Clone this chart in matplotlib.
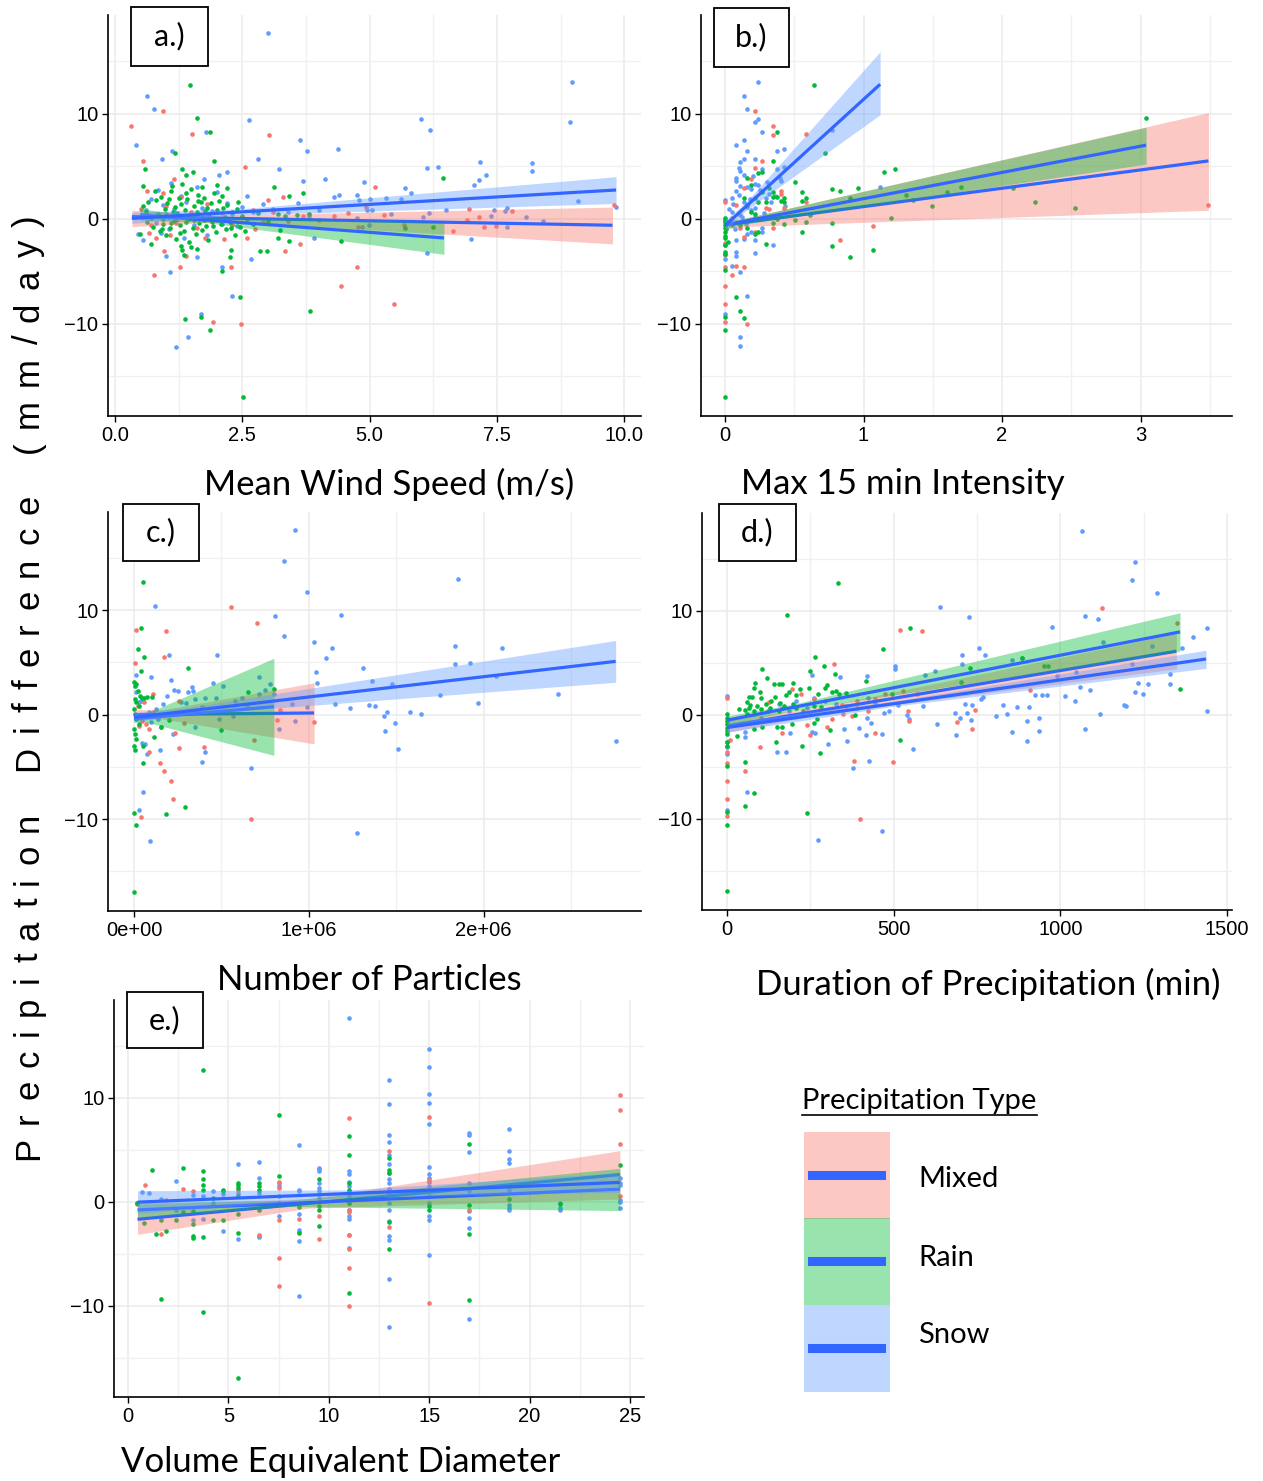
import matplotlib
matplotlib.use("Agg")
import matplotlib.pyplot as plt
from matplotlib import font_manager
from matplotlib.patches import Rectangle
from matplotlib.lines import Line2D

W, H = 1263, 1481

# ---------------------------------------------------------------------------
# data: (x, precipitation difference) pairs
# ---------------------------------------------------------------------------

# a.) mean wind speed (m/s)
a_snow = [
    (3.01, 17.7), (1.48, 14.7), (0.63, 11.7), (0.77, 10.4), (8.98, 13.0), (8.93, 9.2),
    (6.0, 9.5), (6.18, 8.4), (2.62, 9.4), (1.79, 8.3), (0.41, 7.0), (3.64, 7.5),
    (3.76, 6.4), (4.38, 6.6), (2.80, 5.7), (1.11, 6.4), (0.92, 5.7), (7.16, 5.4),
    (8.19, 5.3), (8.19, 4.5), (6.12, 4.8), (6.34, 4.9), (7.29, 4.2), (7.14, 3.7),
    (7.04, 3.2), (3.21, 4.7), (3.70, 3.6), (4.12, 3.8), (4.88, 3.5), (5.69, 2.9),
    (5.82, 2.4), (9.10, 1.7), (9.84, 1.1), (7.45, 0.8), (7.69, 1.0), (8.08, 0.2),
    (8.41, -0.2), (7.0, -1.9), (6.12, -3.3), (3.9, -1.8), (2.67, -3.8), (2.1, -4.6),
    (1.07, -5.1), (1.60, -3.7), (1.0, -3.6), (1.69, -9.1), (1.43, -11.3), (1.19, -12.2),
    (2.29, -7.4), (4.29, 2.1), (4.39, 2.3), (4.76, 2.3), (4.8, 1.8), (5.01, 1.9),
    (5.33, 2.0), (5.61, 1.9), (6.5, 0.8), (4.95, 0.8), (5.05, 0.8), (5.41, 0.4),
    (6.17, 0.5), (4.76, 0.1), (4.98, -0.6), (4.85, -0.8), (6.05, 0.2), (7.38, 0.25),
    (7.65, 0.7), (7.69, -0.8),
    (0.4, 0.2), (0.45, -1.5), (0.55, -2.0), (0.6, 0.8), (0.7, 1.9), (0.8, -0.4),
    (0.85, 2.7), (0.9, -1.4), (0.95, 1.3), (1.0, 0.4), (1.05, -1.0), (1.1, 3.4),
    (1.15, 0.9), (1.2, -0.2), (1.3, 2.2), (1.35, -1.8), (1.4, 1.6), (1.5, 0.1),
    (1.55, -0.6), (1.6, 3.0), (1.7, 1.0), (1.75, 3.8), (1.8, -1.6), (1.9, 0.7),
    (2.0, 2.5), (2.1, -0.5), (2.2, 1.5), (2.3, 0.4), (2.4, -0.7), (2.5, 1.1),
    (2.6, 2.2), (2.7, 0.6), (2.9, 1.4), (3.1, 0.9), (3.4, 0.6), (3.6, 1.5),
    (3.8, 0.3), (4.0, 0.8), (2.05, 4.2), (2.2, 4.4),
]
a_mixed = [
    (0.94, 10.3), (0.32, 8.8), (1.51, 8.1), (3.02, 8.0), (0.54, 5.5), (2.56, 4.9),
    (5.11, 3.0), (3.0, 1.8), (3.29, 2.1), (9.79, 1.3), (7.8, 0.7), (6.96, 0.9),
    (7.15, 0.2), (7.24, -0.8), (7.48, -0.7), (6.63, -1.2), (6.91, -0.1), (4.57, 0.5),
    (4.93, 1.1), (5.28, 0.35), (5.68, -0.6), (4.77, -0.8), (2.75, -1.0), (3.64, -2.4),
    (3.34, -3.1), (4.75, -4.6), (4.44, -6.4), (5.47, -8.1), (1.92, -9.8), (2.47, -10.0),
    (0.76, -5.4), (0.96, -3.1), (1.27, -4.6), (1.39, -3.6), (2.27, -4.6), (2.6, -1.8),
    (0.94, 2.4), (1.16, 3.8), (0.63, 2.6), (0.8, -1.8), (1.07, -1.6), (1.76, -1.8),
    (2.14, -1.9), (0.66, -1.4),
    (0.5, 0.9), (0.7, -0.6), (0.9, 0.3), (1.0, 1.2), (1.2, -0.4), (1.3, 2.1),
    (1.5, 0.6), (1.6, -0.9), (1.8, 1.4), (1.9, -0.3), (2.1, 0.5), (2.3, -0.6),
    (2.5, 0.2), (2.7, 0.8), (2.9, -0.3), (3.1, 0.6), (3.4, -0.2), (3.7, 0.3),
    (4.0, -0.1), (4.3, 0.3),
]
a_rain = [
    (1.48, 12.7), (1.60, 9.6), (1.87, 8.3), (1.17, 6.3), (1.94, 5.5), (0.59, 4.7),
    (1.52, 4.4), (1.32, 4.7), (1.40, 4.2), (6.45, 3.9), (3.70, 2.4), (3.42, 2.2),
    (3.12, 3.0), (0.55, 3.1), (3.42, -2.1), (3.2, -1.8), (4.44, -2.1), (2.85, -3.1),
    (2.98, -3.1), (2.28, -3.0), (2.25, -3.7), (2.1, -5.0), (1.35, -3.5), (1.32, -3.0),
    (1.50, -2.7), (0.71, -2.4), (0.49, -1.5), (1.38, -9.6), (1.69, -9.4), (1.86, -10.6),
    (2.46, -7.5), (3.82, -8.8), (2.51, -17.0), (6.24, -0.8), (5.7, -0.85), (3.81, 0.4),
    (3.57, 0.35), (3.34, 0.3), (3.24, -1.1),
    (0.55, 1.2), (0.6, 0.6), (0.62, -0.3), (0.7, 0.1), (0.75, -0.8), (0.8, 1.8),
    (0.85, 0.4), (0.88, -1.2), (0.9, 2.1), (0.95, -0.5), (0.98, 0.9), (1.0, -1.6),
    (1.02, 1.5), (1.05, 0.2), (1.08, -0.9), (1.1, 2.6), (1.12, 3.1), (1.15, -0.2),
    (1.18, 1.1), (1.2, -1.9), (1.22, 0.5), (1.25, 2.0), (1.28, -0.6), (1.3, 1.4),
    (1.32, 3.3), (1.35, -1.2), (1.38, 0.8), (1.4, -0.3), (1.42, 1.9), (1.45, -2.2),
    (1.48, 0.3), (1.5, 2.8), (1.52, -0.9), (1.55, 1.2), (1.58, -1.5), (1.6, 0.6),
    (1.62, 2.3), (1.65, -0.4), (1.68, 1.6), (1.7, -1.1), (1.72, 0.1), (1.75, 2.0),
    (1.78, -0.7), (1.8, 1.0), (1.82, -2.0), (1.85, 0.4), (1.88, 1.5), (1.9, -0.2),
    (1.95, 2.4), (1.98, -1.3), (2.0, 0.8), (2.05, 1.7), (2.08, -0.5), (2.1, 2.2),
    (2.15, 0.2), (2.18, -1.0), (2.2, 1.3), (2.25, -0.3), (2.3, 0.6), (2.35, -1.6),
    (2.4, 0.9), (2.45, -0.8), (2.5, 0.3), (2.55, -1.2), (2.6, 0.0), (2.7, -0.5),
    (2.8, 0.5), (3.0, -0.2), (3.2, 0.4), (1.3, -2.6), (1.6, -2.9), (1.1, -0.4),
    (0.95, 0.0), (1.45, 0.0), (1.75, -0.1), (2.0, -0.1),
    (0.65, 1.6), (0.78, 2.6), (0.92, -1.0), (1.05, 1.9), (1.13, 0.6), (1.27, -1.4),
    (1.4, 2.4), (1.55, -0.1), (1.63, 1.7), (1.77, 0.7), (1.92, -0.7), (2.12, 1.0),
    (2.28, -0.9), (2.42, 1.6), (1.7, 3.0), (2.0, 3.2), (2.2, 2.9),
]

# b.) max 15 min intensity
b_snow = [
    (0.348, 14.7), (0.242, 13.0), (0.134, 11.7), (0.16, 10.4), (0.24, 9.5), (0.214, 9.2),
    (0.268, 8.3), (0.773, 8.4), (0.08, 7.0), (0.134, 7.5), (0.428, 6.6), (0.374, 6.4),
    (0.162, 6.4), (0.134, 5.7), (0.108, 5.4), (0.214, 5.7), (0.268, 4.7), (0.374, 4.7),
    (0.428, 4.9), (0.108, 4.5), (0.134, 4.2), (0.08, 3.85), (0.402, 3.6),
    (0.08, 3.6), (0.108, 3.15), (0.16, 3.05), (0.188, 2.83), (0.054, 2.0), (0.08, 2.64),
    (0.214, 3.34), (0.24, 3.2), (0.294, 1.94), (0.32, 2.38), (0.134, 1.62), (0.16, 1.14),
    (0.188, 0.8), (0.054, 0.67), (0.108, 0.35), (0.214, 0.19), (0.268, -0.92), (0.188, -1.24),
    (0.134, -1.94), (0.08, -2.03), (0.054, -0.6), (0.214, -2.03), (0.16, -1.5), (0.268, -1.24),
    (0.348, -2.5), (0.214, -3.3), (0.08, -3.6), (0.08, -3.15), (0.054, -4.5), (0.108, -5.1),
    (0.16, -7.4), (0.0, -9.1), (0.108, -11.3), (0.108, -12.1), (0.0, 1.8), (0.0, -3.8),
    (0.0, -2.5), (1.12, 3.0),
    (0.03, 0.9), (0.02, -0.3), (0.06, 1.4), (0.1, 2.3), (0.12, 0.2), (0.15, -0.5),
    (0.18, 1.9), (0.22, 1.0), (0.25, 2.7), (0.28, 0.5), (0.3, 3.5), (0.33, 1.6),
    (0.36, 2.2), (0.4, 3.9), (0.43, 1.2), (0.1, 4.8), (0.2, 4.1), (0.07, -1.0),
]
b_mixed = [
    (0.214, 10.3), (0.348, 8.8), (0.348, 8.0), (0.585, 8.1), (0.268, 5.5),
    (0.214, 4.86), (0.188, 3.78), (0.134, 2.96), (0.402, 2.64), (0.402, 2.38), (0.294, 0.99),
    (0.32, 0.92), (0.428, 0.99), (0.08, 1.3), (0.054, 0.03), (0.108, -0.92), (0.134, -1.75),
    (0.214, -1.24), (0.348, -0.86), (0.0, 1.6), (0.0, -2.35), (0.0, -3.5), (0.0, -4.6),
    (0.0, -6.4), (0.0, -8.1), (0.0, -9.8), (0.054, -5.4), (0.08, -4.5), (0.134, -4.6),
    (0.16, -10.0), (1.067, -0.7), (0.827, -2.0), (3.49, 1.27), (0.585, 1.6),
]
b_rain = [
    (0.64, 12.7), (3.04, 9.6), (0.374, 8.3), (0.72, 6.3), (0.348, 5.5), (1.224, 4.7),
    (1.147, 4.4), (0.508, 3.5), (0.773, 2.8), (0.827, 2.6), (0.959, 2.9), (0.905, 1.94),
    (1.304, 2.3), (1.36, 1.75), (1.6, 2.5), (1.706, 3.0), (2.08, 2.9), (2.237, 1.6),
    (2.53, 1.0), (1.497, 1.2), (1.198, 0.1), (0.559, -1.24), (0.773, -0.4), (0.773, -2.6),
    (0.905, -3.7), (1.067, -3.0), (0.294, -2.4), (0.08, -7.5), (0.108, -8.8), (0.134, -9.5),
    (0.0, -10.6), (0.0, -9.4), (0.0, -4.9), (0.0, -17.0),
    (0.16, 3.85), (0.188, 3.2), (0.214, 2.0), (0.242, 1.62), (0.268, 2.58), (0.294, 1.56),
    (0.32, 2.9), (0.348, 2.5), (0.374, 2.1), (0.402, 1.72), (0.428, 1.94), (0.134, 2.0),
    (0.16, 1.3), (0.188, 0.67), (0.214, 0.41), (0.242, 4.32), (0.268, 4.48), (0.348, 2.1),
    (0.428, 1.62), (0.559, 2.5), (0.585, 2.0), (0.559, 1.69), (0.613, 0.38), (0.508, -0.1),
    (0.585, -0.32), (0.428, -0.5), (0.348, -0.38), (0.374, -0.03), (0.214, -1.5), (0.242, -1.24),
    (0.16, -0.92), (0.108, -0.6),
    (0.0, -0.13), (0.0, -0.35), (0.0, -0.6), (0.0, -0.92), (0.0, -1.24), (0.0, -1.62),
    (0.0, -1.88), (0.0, -2.5), (0.0, -3.15), (0.0, -3.4), (0.0, 0.1), (0.01, -1.0), (0.02, -2.2),
]

# c.) number of particles (millions)
c_snow = [
    (0.921, 17.7), (0.855, 14.7), (1.856, 13.0), (0.989, 11.7), (1.183, 9.5), (0.805, 9.4),
    (0.118, 10.4), (0.859, 7.5), (1.027, 7.0), (1.135, 6.4), (2.106, 6.4), (1.834, 6.6),
    (1.097, 5.4), (0.476, 5.7), (0.198, 5.7), (1.041, 4.1), (1.047, 3.0), (1.309, 4.5),
    (1.361, 3.2), (1.475, 2.9), (1.834, 4.8), (1.922, 4.9), (2.07, 3.7), (1.752, 1.9),
    (1.968, 1.1), (2.426, 2.0), (2.757, -2.5), (1.149, 1.0), (1.233, 0.6), (1.343, 0.9),
    (1.381, 0.8), (1.449, 0.3), (1.427, -0.1), (1.576, 0.3), (1.642, 0.1), (1.493, -0.8),
    (1.437, -1.6), (1.509, -3.3), (1.277, -11.3), (0.671, -5.1), (0.388, -4.5), (0.408, -3.6),
    (0.052, -7.4), (0.028, -9.1), (0.09, -12.1), (0.921, -0.6), (0.987, 0.7), (0.901, 1.0),
    (0.831, -1.4), (0.801, 2.0),
    (0.212, 3.3), (0.23, 2.35), (0.25, 2.23), (0.31, 2.19), (0.33, 2.6), (0.34, 2.29),
    (0.452, 3.05), (0.506, 2.7), (0.406, 1.59), (0.346, 1.49), (0.296, 1.11), (0.186, 1.81),
    (0.166, 1.02), (0.126, 0.54), (0.086, 0.22), (0.266, 1.18), (0.386, 0.7), (0.466, 1.56),
    (0.577, 1.34), (0.617, 1.62), (0.647, 0.86), (0.717, 1.97), (0.747, 2.38), (0.775, 2.89),
    (0.717, 3.62), (0.567, -0.1), (0.486, -0.41), (0.346, -1.14), (0.222, -1.81), (0.146, -3.37),
    (0.072, -3.75), (0.062, -2.77), (0.044, -2.67), (0.156, -1.18), (0.136, -0.41), (0.096, -0.73),
    (0.026, 1.18), (0.014, 2.13), (0.01, 3.82), (0.096, 3.59), (0.042, 1.34),
]
c_mixed = [
    (0.557, 10.3), (0.701, 8.8), (0.182, 8.0), (0.012, 8.1), (0.17, 5.5), (0.006, 4.9),
    (0.106, 2.0), (0.26, 1.3), (0.837, 0.4), (0.817, -0.5), (1.029, -0.7), (0.689, -2.4),
    (0.286, -0.8), (0.236, -1.8), (0.26, -3.2), (0.398, -3.1), (0.084, -3.6), (0.15, -4.6),
    (0.174, -5.4), (0.212, -6.4), (0.222, -8.1), (0.04, -9.8), (0.671, -10.0),
    (0.026, -1.05), (0.066, -0.89), (0.086, -1.37), (0.046, -0.57), (0.106, 0.22),
    (0.022, 0.86), (0.056, 1.18),
]
c_rain = [
    (0.05, 12.7), (0.038, 8.3), (0.024, 6.3), (0.056, 5.5), (0.038, 4.2), (0.308, 4.5),
    (0.0, 3.08), (0.006, 2.77), (0.014, 2.93), (0.024, 2.23), (0.032, 1.81), (0.044, 1.56),
    (0.056, 1.62), (0.076, 1.69), (0.1, 1.72), (0.006, 1.49), (0.014, 1.18), (0.026, 0.86),
    (0.0, 0.54), (0.006, 0.06), (0.014, -0.41), (0.026, -0.89), (0.0, -1.37), (0.006, -1.84),
    (0.014, -2.32), (0.0, -2.96), (0.006, -3.43), (0.05, -2.99), (0.112, -2.1), (0.156, -1.21),
    (0.052, -4.6), (0.0, -9.4), (0.01, -10.6), (0.184, -9.5), (0.294, -8.8), (0.0, -17.0),
    (0.2, -0.5), (0.35, 0.3), (0.5, -1.5), (0.65, 2.2), (0.8, 2.5),
]

# d.) duration of precipitation (min)
d_snow = [
    (1064, 17.7), (1224, 14.7), (1215, 13.0), (1289, 11.7), (640, 10.4), (725, 9.4),
    (1074, 9.5), (1114, 9.2), (974, 8.4), (1439, 8.3), (1398, 7.5), (1129, 7.0),
    (1274, 6.6), (1364, 6.4), (755, 6.4), (704, 5.7), (774, 5.7), (704, 4.9),
    (854, 5.3), (886, 5.4), (505, 4.7), (505, 4.4), (254, 3.8), (340, 3.6),
    (419, 3.7), (593, 3.8), (624, 4.2), (1215, 4.9), (1048, 4.1), (991, 3.7),
    (1329, 3.9), (1234, 3.0), (1264, 2.9), (1329, 2.9), (1224, 2.2), (1249, 2.0),
    (1089, 2.4), (1059, 2.7), (1014, 1.8), (1045, 1.3), (923, 1.9), (944, 1.9),
    (960, 1.9), (1192, 0.9), (1198, 0.8), (1118, 0.1), (1440, 0.3), (1075, -1.4),
    (827, 0.9), (869, 0.7), (907, 0.7), (900, -0.6), (935, -0.3), (935, -1.6),
    (854, -1.7), (900, -2.5), (808, -0.15), (841, 0.1), (761, 1.5), (768, 1.7),
    (734, 0.9), (715, 1.0), (720, 0.2), (699, -0.3), (683, 0.2), (733, -0.5),
    (686, -2.0), (630, -0.9), (589, 0.8), (559, -3.3), (545, -0.4), (541, -0.05),
    (514, 0.92), (486, 0.35), (470, 0.13), (464, -1.9), (425, -4.5), (379, -5.1),
    (465, -11.2), (274, -12.1), (304, -2.8), (361, -2.5), (350, -1.4), (395, -1.25),
    (418, -2.0), (433, -0.8), (419, -0.32), (176, -3.6), (149, -3.6), (190, -1.8),
    (254, -1.7), (264, -1.8), (59, -7.4), (53, -2.2), (53, -1.72), (0, 1.75),
    (0, -2.68), (0, -3.15), (0, -3.79), (0, -9.2),
    (208, 1.31), (261, 1.62), (293, 1.31), (326, 0.99), (358, 0.83), (390, 0.67),
    (422, 1.62), (443, 1.15), (240, 0.67), (187, 0.35), (155, 0.99), (123, 0.35),
    (101, -0.29), (80, 0.03),
]
d_mixed = [
    (1124, 10.3), (519, 8.1), (584, 8.0), (320, 4.9), (1349, 8.8), (196, 2.5),
    (910, 2.4), (544, 0.35), (546, -0.6), (689, -0.7), (745, 0.4), (735, -1.4),
    (443, -1.8), (380, -4.5), (498, -4.6), (399, -10.0), (299, -1.2), (240, -1.0),
    (250, -2.0), (164, -1.8), (100, -3.1), (8.5, -2.4), (53, -5.4), (0, 1.6),
    (0, -3.6), (0, -4.7), (0, -6.4), (0, -8.1), (0, -9.8),
    (221, 1.94), (261, 1.46), (345, 0.92), (390, 1.31), (443, 1.46), (475, 1.94),
    (528, 2.26), (571, 1.94), (125, 1.24), (165, 0.67), (315, -0.45), (347, 0.1),
    (374, -0.13), (422, 0.35),
]
d_rain = [
    (334, 12.7), (179, 9.6), (550, 8.3), (469, 6.3), (264, 5.5), (290, 4.7),
    (106, 4.4), (249, 4.2), (324, 3.9), (121, 3.5), (84, 3.0),
    (140, 2.9), (155, 2.9), (165, 2.9), (80, 2.58), (197, 3.03), (187, 2.2),
    (176, 1.88), (208, 1.88), (293, 2.52), (299, 2.83), (245, 2.52), (219, 2.42),
    (272, 1.94), (315, 2.2), (326, 2.26), (358, 2.1), (99, 2.2), (65, 1.69),
    (76, 1.69), (59, 1.24), (69, 0.92), (91, 0.83), (101, 1.62), (117, 0.99),
    (133, 1.31), (144, 1.69), (160, 1.15), (171, 0.8), (197, 1.05), (208, 0.67),
    (229, 0.35), (261, 0.83), (283, 0.73), (65, 0.67), (53, 0.48), (59, 0.03),
    (80, 0.35), (101, 0.51), (128, 0.6), (155, 0.35), (37, 0.54), (30, -2.1),
    (105, -1.2), (80, -1.43), (149, -1.18), (165, -1.18), (195, -0.92), (261, -0.8),
    (269, -0.45), (309, -1.46), (224, -3.0), (280, -3.7), (148, -2.6), (520, -2.4),
    (701, 3.1), (730, 4.5), (952, 4.7), (963, 4.7), (884, 5.4), (1359, 2.5),
    (384, -0.06), (416, 3.22), (496, 2.0), (336, 1.94),
    (54, -4.6), (54, -8.8), (80, -7.5), (240, -9.5), (0, -10.6), (0, -9.4),
    (0, -4.9), (0, -17.0), (0, 0.03), (0, -0.29), (0, -0.6), (0, -0.92),
    (0, -1.24), (0, -1.56), (0, -1.88), (0, -2.68), (0, -3.0),
]

# e.) volume equivalent diameter
e_snow = [
    (11.0, 17.7), (11.0, 2.9), (11.0, 2.7), (11.0, 1.9), (11.0, 1.5), (11.0, 1.0),
    (11.0, 0.5), (11.0, -0.1), (11.0, -0.8), (11.0, -1.4), (11.0, -1.7), (11.0, -3.2),
    (11.0, -4.5),
    (15.0, 14.7), (15.0, 13.0), (15.0, 10.4), (15.0, 9.5), (15.0, 7.5), (15.0, 3.3),
    (15.0, 2.7), (15.0, 2.3), (15.0, 1.9), (15.0, 1.5), (15.0, 1.1), (15.0, 0.5),
    (15.0, -0.1), (15.0, -1.4), (15.0, -1.8), (15.0, -5.1),
    (13.0, 11.7), (13.0, 9.4), (13.0, 6.4), (13.0, 5.7), (13.0, 4.5), (13.0, 3.6),
    (13.0, 2.8), (13.0, 2.2), (13.0, 1.8), (13.0, 1.2), (13.0, 0.7), (13.0, -0.1),
    (13.0, -0.8), (13.0, -1.9), (13.0, -3.3), (13.0, -3.7), (13.0, -7.4), (13.0, -12.1),
    (17.0, 6.6), (17.0, 6.4), (17.0, 4.8), (17.0, 1.8), (17.0, 1.0), (17.0, -0.9),
    (17.0, -1.6), (17.0, -2.5), (17.0, -11.3),
    (19.0, 7.0), (19.0, 4.9), (19.0, 4.1), (19.0, 3.7), (19.0, 1.1), (19.0, -0.3),
    (19.0, -0.6), (19.0, -0.8),
    (21.5, -0.1), (21.5, -0.6), (21.5, -0.8),
    (24.5, 2.3), (24.5, 1.8), (24.5, 1.6), (24.5, 0.2), (24.5, 0.0), (24.5, -0.6),
    (9.5, 3.2), (9.5, 3.1), (9.5, 2.9), (9.5, 1.8), (9.5, 1.3), (9.5, 1.0), (9.5, 0.35),
    (8.5, 5.4), (8.5, 1.1), (8.5, 1.0), (8.5, -1.2), (8.5, -2.7), (8.5, -2.9),
    (8.5, -3.8), (8.5, -9.1),
    (7.5, 1.8), (7.5, 1.5), (7.5, 0.5), (7.5, -1.4),
    (6.5, 3.8), (6.5, 2.3), (6.5, 0.8), (6.5, -3.3), (6.5, -3.4),
    (5.5, 3.6), (5.5, 0.8), (5.5, -3.6), (4.75, -2.8), (4.75, 0.7),
    (4.25, 1.0), (4.25, -0.1), (3.75, 0.5), (3.75, -1.65), (3.25, 0.6), (3.25, -1.8),
    (2.38, 2.0), (2.38, -0.8), (1.63, 0.25), (1.05, 0.8), (0.68, 0.9), (0.47, -0.1),
]
e_mixed = [
    (24.5, 10.3), (24.5, 8.8), (24.5, 5.5), (24.5, 0.5), (15.0, 8.1), (15.0, -9.8),
    (15.0, 2.1), (11.0, 8.0), (11.0, -0.8), (11.0, -1.0), (11.0, -3.2), (11.0, -4.6),
    (11.0, -6.4), (11.0, -10.0), (13.0, 4.9), (13.0, -2.4), (13.0, 1.1), (7.5, 1.9),
    (7.5, 1.3), (7.5, -1.8), (7.5, -5.4), (7.5, -8.1), (9.5, -1.4), (9.5, -3.6),
    (8.5, -1.65), (6.5, -3.2), (3.25, 1.0), (2.75, 1.2), (1.63, -3.1), (0.85, 1.6),
    (0.47, -0.2), (5.5, 1.1), (17.0, -0.8), (1.87, 0.2),
]
e_rain = [
    (3.74, 12.7), (3.74, 2.9), (3.74, 2.2), (3.74, 1.6), (3.74, 1.1), (3.74, -3.4),
    (3.74, -10.6), (7.5, 8.3), (7.5, 2.5), (7.5, -0.1), (11.0, 6.3), (11.0, 4.5),
    (11.0, 1.8), (11.0, 1.1), (11.0, -0.1), (11.0, -8.8), (13.0, 4.2), (13.0, 3.0),
    (13.0, 2.8), (13.0, -2.0), (13.0, -4.6), (17.0, 5.5), (17.0, -0.3), (17.0, -3.1),
    (17.0, -9.5), (24.5, 3.5), (15.0, -0.8), (15.0, -0.4), (9.5, 2.2), (9.5, -0.45),
    (9.5, -0.8), (9.5, -2.3), (8.5, -0.5), (8.5, -3.0), (6.5, 1.8), (6.5, 1.5),
    (6.5, 1.1), (6.5, -0.8), (5.5, 1.8), (5.5, 1.6), (5.5, 1.3), (5.5, 0.5),
    (5.5, -1.2), (5.5, -3.0), (5.5, -17.0), (4.75, 1.1), (4.75, 1.0), (4.75, -1.8),
    (4.25, 0.35), (4.25, -1.8), (3.24, -2.2), (3.24, -3.3), (3.24, -3.5), (3.24, -0.9),
    (2.75, 3.2), (2.75, -1.0), (2.38, -1.8), (1.87, -2.8), (1.63, -1.8), (1.63, -9.4),
    (1.38, -3.1), (1.19, 3.0), (0.8, -2.1), (0.47, -0.1), (19.0, 0.25), (21.5, -0.2),
]

# linear fits: (x, fit, lower, upper)
a_fit_mixed = [(0.33, 0.2, -0.76, 0.8), (2.2, 0.04, -0.26, 0.34), (9.77, -0.63, -2.4, 1.1)]
a_fit_rain = [(0.49, 0.35, -0.13, 0.95), (1.8, -0.13, -0.38, 0.12), (6.46, -1.84, -3.4, -0.38)]
a_fit_snow = [(0.33, 0.03, -0.45, 0.6), (2.5, 0.65, 0.35, 0.95), (9.84, 2.73, 1.45, 4.0)]

b_fit_mixed = [(0.0, -0.6, -1.0, -0.2), (0.15, -0.34, -0.74, 0.06), (3.49, 5.5, 0.8, 10.1)]
b_fit_rain = [(0.0, -0.6, -0.95, -0.25), (0.15, -0.22, -0.5, 0.06), (3.04, 7.0, 5.2, 8.7)]
b_fit_snow = [(0.005, -0.6, -1.1, -0.1), (0.15, 1.14, 0.74, 1.54), (1.12, 12.8, 9.9, 15.9)]

c_fit_mixed = [(0.0, 0.0, -0.5, 0.5), (0.15, 0.02, -0.38, 0.42), (1.03, 0.16, -2.8, 3.05)]
c_fit_rain = [(0.0, -0.4, -0.75, -0.05), (0.05, -0.33, -0.63, -0.03), (0.8, 0.76, -3.9, 5.4)]
c_fit_snow = [(0.0, -0.25, -0.7, 0.2), (0.3, 0.33, -0.02, 0.68), (2.755, 5.1, 3.1, 7.1)]

d_fit_mixed = [(0, -1.1, -1.7, -0.5), (300, 0.5, 0.15, 0.85), (1348, 6.1, 4.4, 7.8)]
d_fit_rain = [(0, -0.54, -1.02, -0.13), (200, 0.71, 0.41, 1.01), (1359, 7.96, 6.1, 9.8)]
d_fit_snow = [(0, -1.24, -1.7, -0.8), (500, 1.05, 0.8, 1.3), (1437, 5.35, 4.45, 6.2)]

e_fit_mixed = [(0.47, -1.7, -3.15, -0.25), (9.0, -0.17, -0.62, 0.28), (24.5, 2.6, 0.25, 4.9)]
e_fit_rain = [(0.47, -0.8, -1.5, -0.1), (8.0, -0.17, -0.47, 0.13), (24.5, 1.2, -0.86, 3.2)]
e_fit_snow = [(0.47, -0.05, -1.15, 1.05), (11.0, 0.78, 0.43, 1.13), (24.5, 1.85, 0.9, 2.8)]

TYPES = ["Mixed", "Rain", "Snow"]
COLORS = {"Mixed": "#F8766D", "Rain": "#00BA38", "Snow": "#619CFF"}
LINE_COLOR = "#3366FF"

a_xticks = [0, 2.5, 5, 7.5, 10]
a_xticklabels = ["0.0", "2.5", "5.0", "7.5", "10.0"]
b_xticks = [0, 1, 2, 3]
b_xticklabels = ["0", "1", "2", "3"]
c_xticks = [0, 1, 2]
c_xticklabels = ["0e+00", "1e+06", "2e+06"]
d_xticks = [0, 500, 1000, 1500]
d_xticklabels = ["0", "500", "1000", "1500"]
e_xticks = [0, 5, 10, 15, 20, 25]
e_xticklabels = ["0", "5", "10", "15", "20", "25"]
y_ticks = [-10, 0, 10]

Y_LABEL_WORDS = ["Precipitation", "Difference", "(mm/day)"]

TITLE_FONT = "Lato"
TICK_FONT = "Liberation Sans"
_names = {f.name for f in font_manager.fontManager.ttflist}
YLAB_FONT = "Liberation Sans Narrow" if "Liberation Sans Narrow" in _names else "Liberation Sans"


def fx(px):
    return px / W


def fy(py):
    return 1 - py / H


# panel layout in pixels: left, top, right, bottom
panels = [
    dict(name="a.)", box=(108, 15, 641, 416), xlim=(-0.14, 10.33),
         pts={"Mixed": a_mixed, "Rain": a_rain, "Snow": a_snow},
         fits={"Mixed": a_fit_mixed, "Rain": a_fit_rain, "Snow": a_fit_snow},
         ticks=a_xticks, labels=a_xticklabels, minor=1.25,
         tag=(131, 7, 208, 66), xlabel="Mean Wind Speed (m/s)", xl=(389, 484)),
    dict(name="b.)", box=(701, 15, 1232, 416), xlim=(-0.173, 3.66),
         pts={"Mixed": b_mixed, "Rain": b_rain, "Snow": b_snow},
         fits={"Mixed": b_fit_mixed, "Rain": b_fit_rain, "Snow": b_fit_snow},
         ticks=b_xticks, labels=b_xticklabels, minor=0.5,
         tag=(714, 8, 789, 67), xlabel="Max 15 min Intensity", xl=(903, 484)),
    dict(name="c.)", box=(108, 512, 641, 911), xlim=(-0.149, 2.9),
         pts={"Mixed": c_mixed, "Rain": c_rain, "Snow": c_snow},
         fits={"Mixed": c_fit_mixed, "Rain": c_fit_rain, "Snow": c_fit_snow},
         ticks=c_xticks, labels=c_xticklabels, minor=0.5,
         tag=(123, 504, 199, 561), xlabel="Number of Particles", xl=(369, 980)),
    dict(name="d.)", box=(702, 513, 1232, 910), xlim=(-75, 1515),
         pts={"Mixed": d_mixed, "Rain": d_rain, "Snow": d_snow},
         fits={"Mixed": d_fit_mixed, "Rain": d_fit_rain, "Snow": d_fit_snow},
         ticks=d_xticks, labels=d_xticklabels, minor=250,
         tag=(719, 504, 796, 561), xlabel="Duration of Precipitation (min)", xl=(988, 984)),
    dict(name="e.)", box=(114, 1000, 644, 1397), xlim=(-0.7, 25.7),
         pts={"Mixed": e_mixed, "Rain": e_rain, "Snow": e_snow},
         fits={"Mixed": e_fit_mixed, "Rain": e_fit_rain, "Snow": e_fit_snow},
         ticks=e_xticks, labels=e_xticklabels, minor=2.5,
         tag=(127, 992, 203, 1048), xlabel="Volume Equivalent Diameter", xl=(341, 1462)),
]

fig = plt.figure(figsize=(W / 100, H / 100), dpi=100)

for p in panels:
    l, t, r, b = p["box"]
    ax = fig.add_axes([fx(l), fy(b), (r - l) / W, (b - t) / H])
    ax.set_xlim(*p["xlim"])
    ax.set_ylim(-18.8, 19.4)

    # grid, major + minor as in ggplot
    ax.set_xticks(p["ticks"])
    ax.set_xticklabels(p["labels"])
    ax.set_yticks(y_ticks)
    x0, x1 = p["xlim"]
    m = p["ticks"][0] - p["minor"]
    minors = []
    while m < x1:
        if m > x0 and all(abs(m - t_) > 1e-9 for t_ in p["ticks"]):
            minors.append(m)
        m += p["minor"]
    ax.set_xticks(minors, minor=True)
    ax.set_yticks([-15, -5, 5, 15], minor=True)
    ax.grid(True, which="major", color="#EBEBEB", lw=1.1)
    ax.grid(True, which="minor", color="#F0F0F0", lw=1.0)
    ax.set_axisbelow(True)
    ax.tick_params(which="minor", length=0)
    ax.tick_params(which="major", length=4, width=1, color="black",
                   labelsize=14.5, labelcolor="black", pad=3)
    for lab in ax.get_xticklabels() + ax.get_yticklabels():
        lab.set_fontfamily(TICK_FONT)
    for s in ["top", "right"]:
        ax.spines[s].set_visible(False)
    for s in ["left", "bottom"]:
        ax.spines[s].set_linewidth(1.2)

    # points (snow first so rain / mixed sit on top as in the figure)
    for kind in ["Snow", "Mixed", "Rain"]:
        xs = [v[0] for v in p["pts"][kind]]
        ys = [v[1] for v in p["pts"][kind]]
        ax.scatter(xs, ys, s=11, color=COLORS[kind], linewidths=0, zorder=2)

    # ribbon then line per group, in group order
    for kind in TYPES:
        fit = p["fits"][kind]
        xs = [v[0] for v in fit]
        ax.fill_between(xs, [v[2] for v in fit], [v[3] for v in fit],
                        color=COLORS[kind], alpha=0.4, lw=0, zorder=3)
        ax.plot(xs, [v[1] for v in fit], color=LINE_COLOR, lw=2.3,
                solid_capstyle="butt", zorder=3)

    # panel tag box
    tl, tt, tr, tb = p["tag"]
    fig.patches.append(Rectangle((fx(tl), fy(tb)), (tr - tl) / W, (tb - tt) / H,
                                 transform=fig.transFigure, facecolor="white",
                                 edgecolor="black", lw=1.3, zorder=5))
    fig.text(fx((tl + tr) / 2), fy((tt + tb) / 2), p["name"], ha="center", va="center",
             fontsize=22, family=TITLE_FONT, zorder=6)

    fig.text(fx(p["xl"][0]), fy(p["xl"][1]), p["xlabel"], ha="center", va="center",
             fontsize=25, family=TITLE_FONT)

# letter-spaced y label, laid out char by char between y=1160 and y=215 px
renderer = fig.canvas.get_renderer()
glyphs = []
for wi, word in enumerate(Y_LABEL_WORDS):
    for ci, ch in enumerate(word):
        t = fig.text(0, 0, ch, rotation=90, rotation_mode="anchor", ha="center",
                     va="baseline", fontsize=25, family=YLAB_FONT)
        w_px = t.get_window_extent(renderer).height
        glyphs.append([t, w_px, wi > 0 and ci == 0])
total_w = sum(g[1] for g in glyphs)
n_gaps = len(glyphs) - 1
n_word = sum(1 for g in glyphs if g[2])
span = 1160 - 215
gap = (span - total_w) / (n_gaps + 2.2 * n_word)
pos = 1160
for t, w_px, new_word in glyphs:
    if new_word:
        pos -= 2.2 * gap
    t.set_position((fx(38), fy(pos - w_px / 2)))
    pos -= w_px + gap

# legend
fig.text(fx(802), fy(1101), "Precipitation Type", ha="left", va="center",
         fontsize=21, family=TITLE_FONT)
fig.add_artist(Line2D([fx(802), fx(1037)], [fy(1115), fy(1115)], color="black", lw=1.2))
key_top = [1132, 1218, 1305]
key_text = [1179, 1258, 1335]
for kind, kt, ty in zip(TYPES, key_top, key_text):
    fig.patches.append(Rectangle((fx(804), fy(kt + 87)), 86 / W, 87 / H,
                                 transform=fig.transFigure, facecolor=COLORS[kind],
                                 alpha=0.4, lw=0))
    yc = kt + 43
    fig.add_artist(Line2D([fx(812), fx(881)], [fy(yc), fy(yc)], color=LINE_COLOR, lw=6.5))
    fig.text(fx(918), fy(ty), kind, ha="left", va="center", fontsize=21, family=TITLE_FONT)

fig.savefig("out.png", dpi=100)
